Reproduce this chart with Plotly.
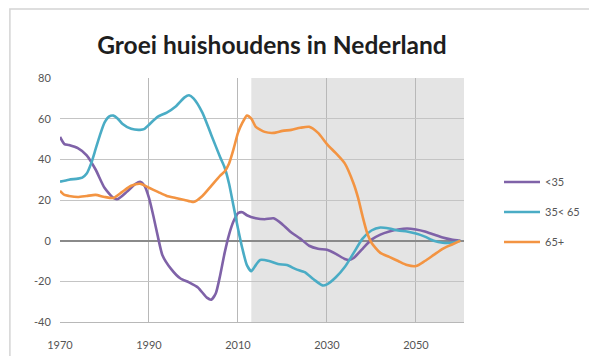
import plotly.graph_objects as go

# Household growth (thousands per year) by age group, 1970-2060
years_lt35 = [1970, 1971, 1972, 1974, 1976, 1978, 1980, 1982, 1983, 1985, 1987, 1988, 1989, 1990,
              1991, 1992, 1993, 1995, 1997, 1999, 2001, 2003, 2004, 2005, 2006, 2007, 2008, 2009,
              2010, 2011, 2012, 2014, 2016, 2018, 2020, 2022, 2024, 2026, 2028, 2030, 2032, 2034,
              2035, 2036, 2038, 2040, 2042, 2044, 2046, 2048, 2050, 2052, 2054, 2056, 2058, 2060]
lt35 = [51, 47.5, 47, 45.5, 42, 35, 26, 21, 20.5, 24, 28, 29, 27, 21,
        12, 2, -7, -14, -18.5, -20.5, -23, -28, -29, -26, -17, -6, 3, 9.5,
        13.5, 14, 12.5, 11, 10.5, 11, 8, 4, 1, -2.5, -4, -4.5, -6.5, -9,
        -9.5, -8.5, -4, 0.5, 3, 4.5, 5.5, 6, 5.5, 4.5, 3, 1.5, 0.5, 0]

years_35_65 = [1970, 1972, 1974, 1975, 1976, 1977, 1978, 1979, 1980, 1981, 1982, 1983, 1984, 1986,
               1988, 1989, 1990, 1992, 1994, 1996, 1998, 1999, 2000, 2002, 2004, 2006, 2007, 2008,
               2009, 2010, 2011, 2012, 2013, 2014, 2015, 2017, 2019, 2021, 2023, 2025, 2027, 2029,
               2030, 2032, 2034, 2036, 2038, 2040, 2042, 2044, 2046, 2048, 2050, 2052, 2054, 2056,
               2058, 2060]
age35_65 = [29, 30, 30.5, 31, 33, 38, 45, 52, 58, 61, 61.5, 60, 57.5, 55,
            54.5, 55, 57, 61, 63, 66, 70.5, 71.5, 70, 63, 52, 41, 36, 28,
            17, 6, -4, -12, -15, -12, -9.5, -10, -11.5, -12, -14, -15.5, -19, -22,
            -21.5, -18, -13, -6, 1, 5, 6.5, 6, 5, 4.5, 3.5, 2, 0, -1,
            -1, 0]

years_65plus = [1970, 1971, 1972, 1974, 1976, 1978, 1980, 1982, 1984, 1986, 1988, 1990, 1992, 1994,
                1996, 1998, 2000, 2002, 2004, 2006, 2007, 2008, 2009, 2010, 2011, 2012, 2013, 2014,
                2016, 2018, 2020, 2022, 2024, 2026, 2028, 2030, 2032, 2034, 2036, 2037, 2038, 2039,
                2040, 2042, 2044, 2046, 2048, 2050, 2052, 2054, 2056, 2058, 2060]
age65plus = [24.5, 22.5, 22, 21.5, 22, 22.5, 21.5, 21, 24, 27, 28, 26, 24, 22,
             21, 20, 19, 22, 27, 32, 34, 38, 45, 53, 58, 61.5, 60, 56,
             53.5, 53, 54, 54.5, 55.5, 56, 53, 47.5, 43, 38, 28, 21, 12, 4,
             -1, -6, -8, -10, -12, -12.5, -10, -7, -4, -2, 0]

series_names = ["<35", "35< 65", "65+"]
x_ticks = [1970, 1990, 2010, 2030, 2050]
y_ticks = [-40, -20, 0, 20, 40, 60, 80]
y_tick_labels = ["-40", "-20", "0", "20", "40", "60", "80"]
forecast_start = 2013

colors = ["#7f62a8", "#4aacc5", "#f39442"]
font_family = "Lato, 'Open Sans', sans-serif"

fig = go.Figure()
for i, (xs, ys) in enumerate([(years_lt35, lt35), (years_35_65, age35_65), (years_65plus, age65plus)]):
    fig.add_trace(go.Scatter(
        x=xs, y=ys, mode="lines", name=series_names[i],
        line=dict(color=colors[i], width=2.6, shape="spline", smoothing=0.6),
        legendgroup=series_names[i],
    ))

x_end = 2060.8
# forecast period shading
fig.add_shape(type="rect", xref="x", yref="y", x0=forecast_start, x1=x_end, y0=-40, y1=80,
              fillcolor="#e4e4e4", line_width=0, layer="below")
# outer chart frame
fig.add_shape(type="rect", xref="paper", yref="paper", x0=-0.124, x1=1.4, y0=-0.2, y1=1.283,
              line=dict(color="#d4d4d4", width=1.5), fillcolor="rgba(0,0,0,0)", layer="below")

fig.update_layout(
    width=589, height=356,
    margin=dict(l=60, r=125, t=78, b=34, autoexpand=False),
    paper_bgcolor="white", plot_bgcolor="white",
    font=dict(family=font_family, color="#555555", size=11),
    title=dict(text="<b>Groei huishoudens in Nederland</b>", x=272 / 589, xanchor="center",
               y=1 - 45 / 356, yanchor="middle",
               font=dict(family=font_family, size=24.5, color="#1e1e1e")),
    showlegend=True,
    legend=dict(xref="container", yref="container", x=499 / 589, xanchor="left",
                y=1 - 212 / 356, yanchor="middle",
                font=dict(size=11, color="#555555"), tracegroupgap=11,
                bgcolor="rgba(255,255,255,0)", itemwidth=36),
    xaxis=dict(range=[1970, x_end], tickvals=x_ticks, showgrid=True, gridcolor="#b8b8b8",
               gridwidth=1.2, showline=True, linecolor="#b8b8b8", linewidth=1.2,
               zeroline=False, ticks="outside", ticklen=13, tickcolor="rgba(0,0,0,0)",
               automargin=False),
    yaxis=dict(range=[-40, 80], tickvals=y_ticks, ticktext=y_tick_labels, showgrid=True,
               gridcolor="#c4c4c4", gridwidth=1.2, zeroline=True, zerolinecolor="#8a8a8a",
               zerolinewidth=1.6, showline=False, ticks="outside", ticklen=6,
               tickcolor="rgba(0,0,0,0)", automargin=False),
)

fig.write_html("out.html")
